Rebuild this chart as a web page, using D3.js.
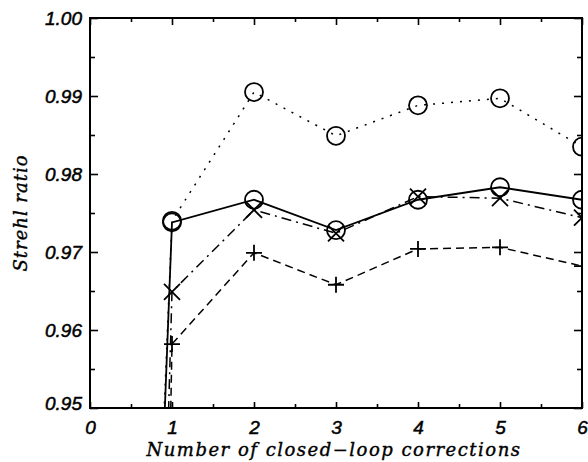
<!DOCTYPE html>
<html>
<head>
<meta charset="utf-8">
<script src="https://cdn.jsdelivr.net/npm/d3@7"></script>
<style>
  body { margin: 0; background: #fff; }
  svg { display: block; }
</style>
</head>
<body>
<svg id="chart" width="588" height="462"></svg>
<script>
// data
const corrections = [0, 1, 2, 3, 4, 5, 6];
const solidCircles = [0.70, 0.9738, 0.9767, 0.9728, 0.9767, 0.9783, 0.9767];
const dottedCircles = [0.72, 0.9740, 0.9905, 0.9849, 0.9888, 0.9897, 0.9835];
const dashDotCrosses = [0.60, 0.9649, 0.9754, 0.9724, 0.9771, 0.9769, 0.9744];
const dashedPluses = [0.40, 0.9582, 0.9699, 0.9658, 0.9704, 0.9706, 0.9682];
const xTicks = [0, 1, 2, 3, 4, 5, 6];
const yTicks = [0.95, 0.96, 0.97, 0.98, 0.99, 1.00];

(function () {
  const svg = d3.select("#chart");
  const left = 90, right = 582, top = 18, bottom = 408;

  const x = d3.scaleLinear().domain([0, 6]).range([left, right]);
  const y = d3.scaleLinear().domain([0.95, 1.0]).range([bottom, top]);

  const tickFont = "'Liberation Sans', Arial, sans-serif";
  const titleFont = "'DejaVu Serif', serif";

  svg.append("clipPath").attr("id", "plot-clip")
    .append("rect")
    .attr("x", left).attr("y", top)
    .attr("width", right - left).attr("height", bottom - top);

  const xMinor = d3.range(0.5, 6, 1);
  const yMinor = d3.range(0.955, 1.0, 0.01);

  function styleAxis(g) {
    g.select(".domain").remove();
    g.attr("font-family", tickFont).attr("font-size", 19).attr("font-style", "italic");
    g.selectAll("line").attr("stroke", "#000").attr("stroke-width", 1.6);
    g.selectAll("text")
      .attr("fill", "#000")
      .attr("stroke", "#000")
      .attr("stroke-width", 0.5)
      .style("font-style", "italic");
  }

  // bottom axis
  svg.append("g").attr("transform", `translate(0,${bottom})`)
    .call(d3.axisBottom(x).tickValues(xTicks).tickSize(-6).tickPadding(13).tickFormat(d3.format("d")))
    .call(styleAxis);
  svg.append("g").attr("transform", `translate(0,${bottom})`)
    .call(d3.axisBottom(x).tickValues(xMinor).tickSize(-4).tickFormat(""))
    .call(styleAxis);
  // top axis
  svg.append("g").attr("transform", `translate(0,${top})`)
    .call(d3.axisTop(x).tickValues(xTicks).tickSize(-7).tickFormat(""))
    .call(styleAxis);
  svg.append("g").attr("transform", `translate(0,${top})`)
    .call(d3.axisTop(x).tickValues(xMinor).tickSize(-4).tickFormat(""))
    .call(styleAxis);
  // left axis
  const yAxis = svg.append("g").attr("transform", `translate(${left},0)`)
    .call(d3.axisLeft(y).tickValues(yTicks).tickSize(-8).tickPadding(8).tickFormat(d3.format(".2f")))
    .call(styleAxis);
  // bottom label sits a little above its tick
  yAxis.selectAll(".tick text").filter((d) => d === 0.95).attr("dy", "0.1em");
  svg.append("g").attr("transform", `translate(${left},0)`)
    .call(d3.axisLeft(y).tickValues(yMinor).tickSize(-5).tickFormat(""))
    .call(styleAxis);
  // right axis
  svg.append("g").attr("transform", `translate(${right},0)`)
    .call(d3.axisRight(y).tickValues(yTicks).tickSize(-8).tickFormat(""))
    .call(styleAxis);
  svg.append("g").attr("transform", `translate(${right},0)`)
    .call(d3.axisRight(y).tickValues(yMinor).tickSize(-5).tickFormat(""))
    .call(styleAxis);

  svg.append("rect")
    .attr("x", left).attr("y", top)
    .attr("width", right - left).attr("height", bottom - top)
    .attr("fill", "none").attr("stroke", "#000").attr("stroke-width", 2);

  const line = d3.line().x((d) => x(d[0])).y((d) => y(d[1]));
  const plot = svg.append("g").attr("clip-path", "url(#plot-clip)");

  const series = [
    { values: dottedCircles, dash: "2,7", width: 1.5, marker: "circle" },
    { values: dashedPluses, dash: "8,5", width: 1.5, marker: "plus" },
    { values: dashDotCrosses, dash: "10,5,2,5", width: 1.5, marker: "cross" },
    { values: solidCircles, dash: null, width: 1.8, marker: "circle" },
  ];

  series.forEach((s) => {
    const pts = corrections.map((c, i) => [c, s.values[i]]);
    plot.append("path")
      .attr("d", line(pts))
      .attr("fill", "none")
      .attr("stroke", "#000")
      .attr("stroke-width", s.width)
      .attr("stroke-dasharray", s.dash);

    const marks = plot.selectAll(null)
      .data(pts.filter((p) => p[1] >= 0.95))
      .enter()
      .append("g")
      .attr("transform", (d) => `translate(${x(d[0])},${y(d[1])})`);

    if (s.marker === "circle") {
      marks.append("circle").attr("r", 9)
        .attr("fill", "none").attr("stroke", "#000").attr("stroke-width", 1.8);
    } else if (s.marker === "plus") {
      marks.append("path").attr("d", "M-8,0H8M0,-8V8")
        .attr("stroke", "#000").attr("stroke-width", 1.8);
    } else {
      marks.append("path").attr("d", "M-8,-8L8,8M-8,8L8,-8")
        .attr("stroke", "#000").attr("stroke-width", 1.8);
    }
  });

  svg.append("text")
    .attr("x", (left + right) / 2 - 2)
    .attr("y", 456)
    .attr("text-anchor", "middle")
    .attr("stroke", "#000")
    .attr("stroke-width", 0.4)
    .style("font-family", titleFont)
    .style("font-style", "italic")
    .style("font-size", "18px")
    .style("letter-spacing", "1.5px")
    .text("Number of closed\u2212loop corrections");

  svg.append("text")
    .attr("transform", `translate(27,${(top + bottom) / 2}) rotate(-90)`)
    .attr("text-anchor", "middle")
    .attr("stroke", "#000")
    .attr("stroke-width", 0.4)
    .style("font-family", titleFont)
    .style("font-style", "italic")
    .style("font-size", "18px")
    .style("letter-spacing", "1px")
    .text("Strehl ratio");
})();
</script>
</body>
</html>
